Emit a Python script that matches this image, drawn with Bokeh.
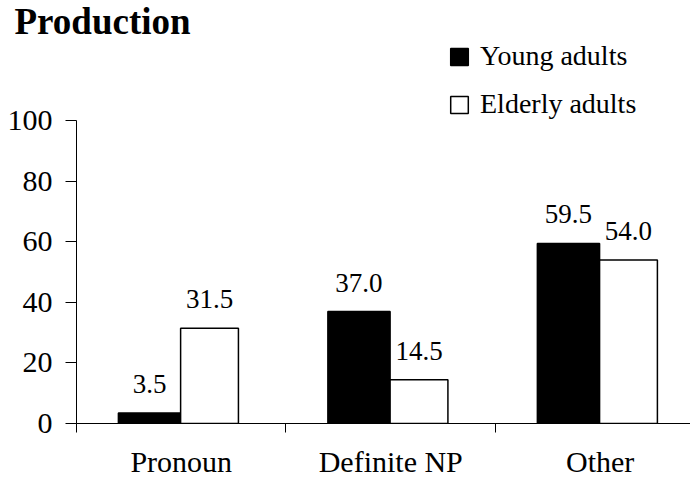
from bokeh.plotting import figure
from bokeh.models import ColumnDataSource, Range1d, FixedTicker, Legend, LegendItem
from bokeh.transform import dodge
from bokeh.core.properties import value
from bokeh.embed import file_html
from bokeh.resources import INLINE

# ---- data ----
categories = ["Pronoun", "Definite NP", "Other"]
young = [3.5, 37.0, 59.5]
elderly = [31.5, 14.5, 54.0]
series_names = ["Young adults", "Elderly adults"]
y_ticks = [0, 20, 40, 60, 80, 100]
chart_title = "Production"

FONT = "Liberation Serif"
BLACK_W, BLACK_SHIFT = 0.297, -0.1515
WHITE_W, WHITE_SHIFT = 0.276, 0.135

pos = [i + 0.5 for i in range(len(categories))]
boundaries = [i for i in range(len(categories) + 1)]

src = ColumnDataSource(dict(
    x=pos,
    young=young,
    elderly=elderly,
    young_lbl=[f"{v:.1f}" for v in young],
    elderly_lbl=[f"{v:.1f}" for v in elderly],
))

p = figure(width=690, height=480, output_backend="svg", toolbar_location=None,
           title=chart_title,
           x_range=Range1d(0, 2.931), y_range=Range1d(0, 127.9),
           min_border_left=76, min_border_right=0, min_border_top=36, min_border_bottom=56)
p.outline_line_color = None
p.xgrid.visible = False
p.ygrid.visible = False
p.background_fill_color = "white"
p.border_fill_color = "white"

p.title.align = "left"
p.title.offset = -62
p.title.standoff = -10
p.title.text_font = FONT
p.title.text_font_style = "bold"
p.title.text_font_size = "37px"
p.title.text_color = "black"

r1 = p.vbar(x=dodge("x", BLACK_SHIFT), top="young", width=BLACK_W, bottom=0, source=src,
            fill_color="black", line_color="black", line_width=1.5)
r2 = p.vbar(x=dodge("x", WHITE_SHIFT), top="elderly", width=WHITE_W, bottom=0, source=src,
            fill_color="white", line_color="black", line_width=1.5)

p.text(x=dodge("x", BLACK_SHIFT), y="young", text="young_lbl", source=src,
       text_font=value(FONT), text_font_size="27px", text_align="center",
       text_baseline="alphabetic", y_offset=-29, text_color="black")
p.text(x=dodge("x", WHITE_SHIFT), y="elderly", text="elderly_lbl", source=src,
       text_font=value(FONT), text_font_size="27px", text_align="center",
       text_baseline="alphabetic", y_offset=-29, text_color="black")

# x axis: category labels at centers, tick marks at boundaries
xa = p.xaxis[0]
xa.ticker = FixedTicker(ticks=pos, minor_ticks=boundaries)
xa.major_label_overrides = {pos[i]: categories[i] for i in range(len(categories))}
xa.major_tick_out = 0
xa.major_tick_in = 0
xa.minor_tick_out = 9
xa.minor_tick_in = 0
xa.minor_tick_line_color = "black"
xa.axis_line_color = "black"
xa.major_label_text_font = FONT
xa.major_label_text_font_size = "30px"
xa.major_label_text_color = "black"
xa.major_label_standoff = 12

ya = p.yaxis[0]
ya.ticker = FixedTicker(ticks=y_ticks)
ya.bounds = (0, 100)
ya.major_tick_out = 11
ya.major_tick_in = 0
ya.minor_tick_out = 0
ya.minor_tick_in = 0
ya.axis_line_color = "black"
ya.major_tick_line_color = "black"
ya.major_label_text_font = FONT
ya.major_label_text_font_size = "30px"
ya.major_label_text_color = "black"
ya.major_label_standoff = 13

legend = Legend(items=[LegendItem(label=series_names[0], renderers=[r1]),
                       LegendItem(label=series_names[1], renderers=[r2])],
                location=(372, 303), orientation="vertical",
                glyph_width=22, glyph_height=21, label_standoff=10,
                label_text_font=FONT, label_text_font_size="28px", label_text_color="black",
                spacing=16, padding=0, margin=0,
                border_line_color=None, background_fill_alpha=0)
p.add_layout(legend)

open("out.html", "w").write(file_html(p, INLINE))
